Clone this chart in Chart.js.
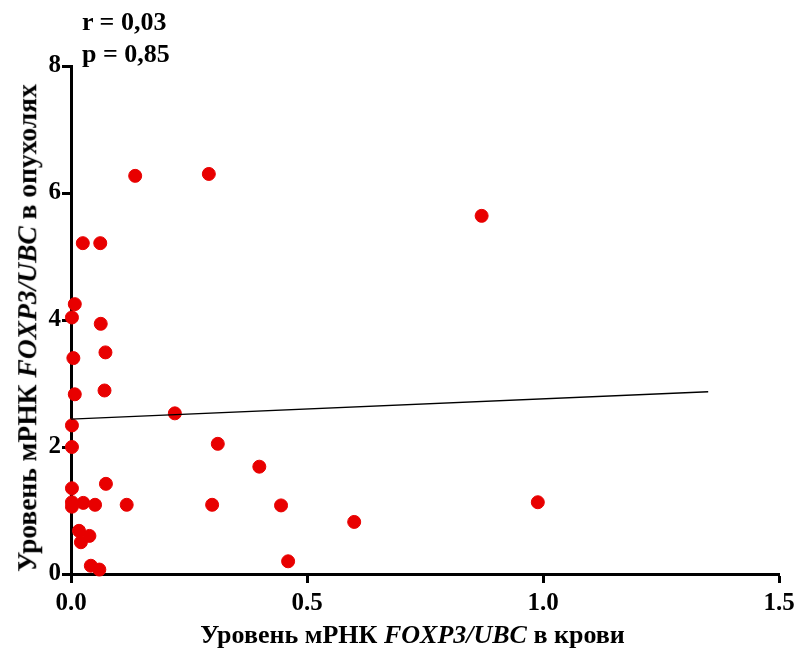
<!DOCTYPE html>
<html>
<head>
<meta charset="utf-8">
<script src="https://cdn.jsdelivr.net/npm/chart.js@4"></script>
<style>
  body { margin: 0; background: #fff; }
  #wrap { position: relative; width: 801px; height: 651px; font-family: "Liberation Serif", "DejaVu Serif", serif; font-weight: bold; color: #000; }
  #chart { position: absolute; left: 0; top: 0; }
  .lbl { position: absolute; white-space: nowrap; font-size: 26px; line-height: 1; }
  #stats { left: 82px; top: 6px; font-size: 26px; line-height: 32px; }
  #xTitle { left: 0; width: 801px; top: 622px; text-align: center; padding-left: 24px; box-sizing: border-box; }
  #yTitle { left: 27px; top: 328px; font-size: 27.5px; transform: translate(-50%, -50%) rotate(-90deg); }
</style>
</head>
<body>
<div id="wrap">
  <canvas id="chart" width="801" height="651"></canvas>
  <div class="lbl" id="stats">r = 0,03<br>p = 0,85</div>
  <div class="lbl" id="xTitle">Уровень мРНК <i>FOXP3/UBC</i> в крови</div>
  <div class="lbl" id="yTitle">Уровень мРНК <i>FOXP3/UBC</i> в опухолях</div>
</div>
<script>
'use strict';
// blood level (x) vs tumour level (y)
var xValues = [0.136, 0.292, 0.870, 0.025, 0.062, 0.008, 0.002, 0.063, 0.073, 0.005,
  0.071, 0.008, 0.220, 0.002, 0.002, 0.311, 0.002, 0.074, 0.002, 0.002,
  0.026, 0.051, 0.118, 0.299, 0.017, 0.039, 0.021, 0.042, 0.060, 0.399,
  0.445, 0.600, 0.460, 0.989];
var yValues = [6.27, 6.30, 5.64, 5.21, 5.21, 4.25, 4.04, 3.94, 3.49, 3.40,
  2.89, 2.83, 2.53, 2.34, 2.00, 2.05, 1.35, 1.42, 1.13, 1.06,
  1.12, 1.09, 1.09, 1.09, 0.68, 0.60, 0.50, 0.13, 0.07, 1.69,
  1.08, 0.82, 0.20, 1.13];
// regression line ends
var lineX = [0, 1.35];
var lineY = [2.44, 2.87];
var xTickLabels = ['0.0', '0.5', '1.0', '1.5'];
var yTickLabels = ['0', '2', '4', '6', '8'];

var toPoints = function (xs, ys) {
  var res = [];
  for (let i = 0; i < xs.length; i++) {
    res.push({ x: xs[i], y: ys[i] });
  }
  return res;
};

var tickFont = { family: '"Liberation Serif", serif', size: 25, weight: 'bold' };

var axisStyle = function (labels, step, max, pad) {
  return {
    type: 'linear',
    min: 0,
    max: max,
    border: { color: '#000', width: 3 },
    grid: { drawOnChartArea: false, drawTicks: true, tickLength: 9, tickWidth: 3, tickColor: '#000' },
    ticks: {
      stepSize: step,
      color: '#000',
      font: tickFont,
      padding: pad,
      callback: function (value, index) { return labels[index]; }
    }
  };
};

var xScale = axisStyle(xTickLabels, 0.5, 1.5, 6);
xScale.afterFit = function (scale) { scale.height = 77; };
var yScale = axisStyle(yTickLabels, 2, 8, 1);
yScale.afterFit = function (scale) { scale.width = 71; };

var ctx = document.getElementById('chart').getContext('2d');
// eslint-disable-next-line no-undef
new Chart(ctx, {
  type: 'scatter',
  data: {
    datasets: [{
      data: toPoints(lineX, lineY),
      showLine: true,
      borderColor: '#000',
      borderWidth: 1.3,
      pointRadius: 0,
      clip: false
    }, {
      data: toPoints(xValues, yValues),
      backgroundColor: 'rgb(232,0,0)',
      borderColor: 'rgb(232,0,0)',
      pointRadius: 6.5,
      clip: false
    }]
  },
  options: {
    responsive: false,
    animation: false,
    layout: { padding: { left: 0, top: 66, right: 22, bottom: 0 } },
    plugins: { legend: { display: false }, tooltip: { enabled: false } },
    scales: { x: xScale, y: yScale }
  }
});
</script>
</body>
</html>
